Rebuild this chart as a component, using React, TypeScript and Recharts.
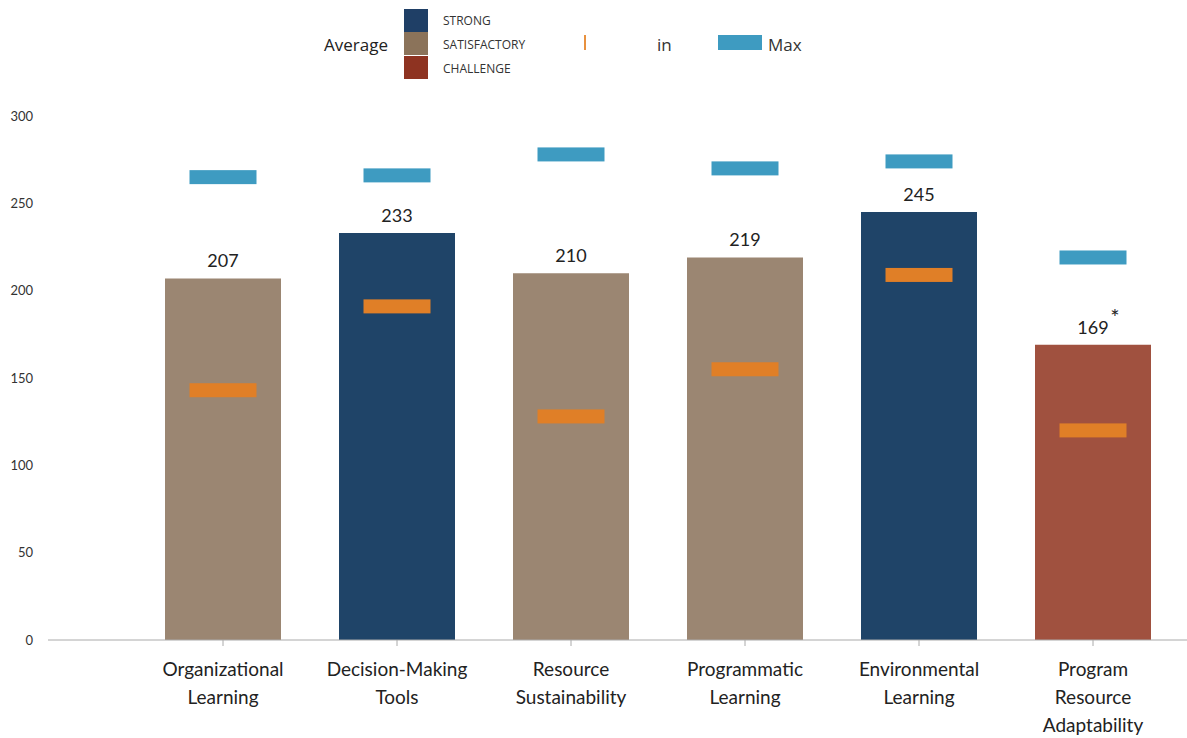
import { ComposedChart, Bar, Cell, Scatter, XAxis, YAxis, LabelList } from 'recharts';

const categories = [
  'Organizational\nLearning',
  'Decision-Making\nTools',
  'Resource\nSustainability',
  'Programmatic\nLearning',
  'Environmental\nLearning',
  'Program\nResource\nAdaptability',
];
const averages = [207, 233, 210, 219, 245, 169];
const minima = [143, 191, 128, 155, 209, 120];
const maxima = [265, 266, 278, 270, 274, 219];
const ratings = ['SATISFACTORY', 'STRONG', 'SATISFACTORY', 'SATISFACTORY', 'STRONG', 'CHALLENGE'];
const notes = ['', '', '', '', '', '*'];
const yTicks = [0, 50, 100, 150, 200, 250, 300];

const ratingColors: Record<string, string> = {
  STRONG: '#1F4468',
  SATISFACTORY: '#9B8672',
  CHALLENGE: '#A0513F',
};
const legendColors: Record<string, string> = {
  STRONG: '#1F3F66',
  SATISFACTORY: '#8B735A',
  CHALLENGE: '#8E3321',
};

const data = categories.map((name, i) => ({
  name,
  avg: averages[i],
  min: minima[i],
  max: maxima[i],
  rating: ratings[i],
  note: notes[i],
}));

const FONT = 'Lato, "Open Sans", sans-serif';

function CategoryTick(props: any) {
  const { x, y, payload } = props;
  const lines = String(payload.value).split('\n');
  return (
    <text x={x} y={y} textAnchor="middle" fill="#222" fontSize={19} fontFamily={FONT}>
      {lines.map((line, i) => (
        <tspan key={i} x={x} dy={i === 0 ? 28 : 28}>
          {line}
        </tspan>
      ))}
    </text>
  );
}

function marker(color: string) {
  return (props: any) => (
    <rect x={props.cx - 33.5} y={props.cy - 7} width={67} height={14} fill={color} />
  );
}

function ValueLabel(props: any) {
  const { x, y, width, value, index } = props;
  const cx = x + width / 2;
  const note = notes[index];
  return (
    <g>
      <text x={cx} y={y - 11} textAnchor="middle" fill="#222" fontSize={18} fontFamily={FONT}>
        {value}
      </text>
      {note ? (
        <text x={cx + 22} y={y - 20} textAnchor="middle" fill="#222" fontSize={22} fontFamily={FONT}>
          {note}
        </text>
      ) : null}
    </g>
  );
}

function TopLegend() {
  const items = ['STRONG', 'SATISFACTORY', 'CHALLENGE'];
  return (
    <div style={{ position: 'absolute', left: 0, top: 0, width: 1187, height: 90, fontFamily: '"Open Sans", sans-serif' }}>
      <div style={{ position: 'absolute', left: 324, top: 33, fontSize: 17, color: '#222' }}>Average</div>
      {items.map((k, i) => (
        <div key={k}>
          <div style={{ position: 'absolute', left: 404, top: 9 + i * 23.3, width: 24, height: 23, background: legendColors[k] }} />
          <div style={{ position: 'absolute', left: 443, top: 12 + i * 24, fontSize: 12, color: '#333' }}>{k}</div>
        </div>
      ))}
      <div style={{ position: 'absolute', left: 584, top: 35, width: 1.5, height: 15, background: '#E8913F' }} />
      <div style={{ position: 'absolute', left: 657, top: 33, fontSize: 17, color: '#333' }}>in</div>
      <div style={{ position: 'absolute', left: 718, top: 35, width: 44, height: 15, background: '#3E9BC1' }} />
      <div style={{ position: 'absolute', left: 768, top: 33, fontSize: 17, color: '#333' }}>Max</div>
    </div>
  );
}

export default function App() {
  return (
    <div style={{ position: 'absolute', left: 0, top: 0, width: 1187, height: 738, background: '#fff' }}>
      <ComposedChart
        width={1187}
        height={738}
        data={data}
        margin={{ top: 116, right: 0, left: 0, bottom: 0 }}
      >
        <XAxis
          dataKey="name"
          interval={0}
          height={98}
          padding={{ left: 88, right: 7 }}
          axisLine={{ stroke: '#AAAAAA' }}
          tickLine={{ stroke: '#AAAAAA' }}
          tickSize={6}
          tick={<CategoryTick />}
        />
        <YAxis
          domain={[0, 300]}
          ticks={yTicks}
          width={48}
          axisLine={false}
          tickLine={false}
          tickSize={0}
          tickMargin={15}
          tick={{ fill: '#333', fontSize: 13, fontFamily: FONT }}
        />
        <Bar dataKey="avg" barSize={116} isAnimationActive={false}>
          {data.map((d, i) => (
            <Cell key={i} fill={ratingColors[d.rating]} />
          ))}
          <LabelList dataKey="avg" content={<ValueLabel />} />
        </Bar>
        <Scatter dataKey="max" fill="#3E9BC1" shape={marker('#3E9BC1')} isAnimationActive={false} />
        <Scatter dataKey="min" fill="#E07F27" shape={marker('#E07F27')} isAnimationActive={false} />
      </ComposedChart>
      <TopLegend />
    </div>
  );
}
